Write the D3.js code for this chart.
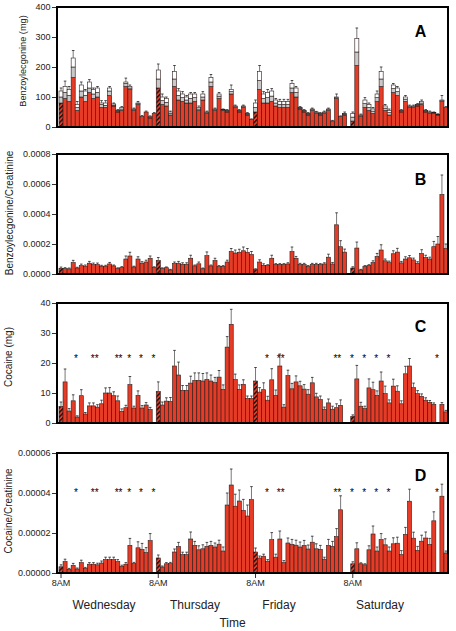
<!DOCTYPE html>
<html><head><meta charset="utf-8">
<script src="https://cdn.jsdelivr.net/npm/d3@7"></script>
<style>body{margin:0;background:#fff}svg{display:block;font-family:"Liberation Sans",Arial,sans-serif}</style>
</head><body><svg id="c" width="456" height="631"></svg>
<script>
// ---------- DATA ----------
const hourIndex = d3.range(96);               // hourly samples, 8AM Wednesday onward
const days = ["Wednesday","Thursday","Friday","Saturday"];
const dayTickSlots = [0,24,48,72];
const dayTickLabels = ["8AM","8AM","8AM","8AM"];
const hatchedSlots = [0,24,48,72];

// Panel A: Benzoylecgonine (mg) — stacked red / grey / white segments
const bzRed = [80,95,85,165,55,100,85,115,95,100,65,65,105,70,50,55,135,125,55,75,35,50,30,45,
 130,75,70,40,135,90,85,80,80,85,55,90,45,135,55,95,55,50,110,65,50,65,40,25,
 50,125,80,80,85,70,65,65,65,115,100,60,50,40,55,45,40,45,55,20,95,35,40,null,
 20,205,35,65,55,45,85,135,55,40,115,105,50,85,65,65,70,75,50,45,45,40,85,65];
const bzGrey = [20,20,20,35,10,20,20,15,15,15,10,7,15,3,3,5,10,5,3,3,0,0,2,0,
 30,13,12,5,25,15,13,10,15,13,5,10,3,15,3,8,2,3,8,3,3,3,3,0,
 15,30,15,18,18,10,10,10,10,15,15,3,3,3,3,3,3,3,3,0,3,0,3,null,
 13,45,3,13,10,8,13,25,8,8,13,13,3,8,3,3,3,5,3,3,2,1,3,0];
const bzWhite = [20,20,20,30,10,20,15,20,15,15,5,8,10,4,2,5,5,5,2,2,0,0,3,0,
 30,12,13,5,25,15,12,10,15,12,5,10,2,15,2,7,1,2,7,2,2,2,2,0,
 15,30,15,17,17,10,10,10,10,15,15,2,2,2,2,2,2,2,2,0,2,0,2,null,
 12,45,2,12,10,7,12,25,7,7,12,12,2,7,2,2,2,5,2,2,1,1,2,0];
const bzErr = [10,18,10,25,10,10,5,8,5,5,8,8,5,3,3,3,13,5,3,5,3,3,2,3,
 20,10,5,3,20,8,8,5,5,5,5,8,3,10,3,5,2,3,15,3,3,3,3,2,
 10,20,8,10,8,5,7,7,7,10,5,3,3,3,3,2,3,3,3,2,10,2,5,null,
 5,35,3,8,5,5,10,15,5,5,5,5,3,5,3,3,3,5,3,3,2,2,15,3];

// Panel B: Benzoylecgonine/Creatinine (values in units of 1e-4)
const bzCr = [0.38,0.36,0.34,0.76,0.4,0.56,0.52,0.72,0.63,0.63,0.52,0.52,0.67,0.54,0.36,0.43,1.0,1.2,0.47,1.0,0.72,0.8,1.05,0.43,
 0.9,0.36,0.42,0.27,0.7,0.72,0.65,0.65,1.05,0.54,0.68,0.35,1.22,0.54,0.9,0.5,0.5,0.8,1.5,1.4,1.45,1.55,1.45,1.3,
 0.3,0.8,0.58,0.56,1.05,0.63,0.63,0.63,0.67,1.5,1.05,0.63,0.63,0.5,0.63,0.63,0.63,0.67,1.12,0.67,3.28,1.82,1.46,null,
 0.4,1.73,0.27,0.5,0.56,0.76,1.17,1.6,0.88,0.76,1.35,1.46,0.74,1.0,1.08,0.94,0.72,1.37,1.1,1.0,1.82,2.0,5.3,1.7];
const bzCrErr = [0.08,0.06,0.06,0.15,0.05,0.1,0.08,0.12,0.1,0.1,0.06,0.06,0.1,0.06,0.05,0.06,0.2,0.25,0.05,0.15,0.1,0.12,0.15,0.05,
 0.2,0.05,0.05,0.04,0.1,0.12,0.1,0.1,0.2,0.06,0.12,0.05,0.25,0.06,0.15,0.06,0.06,0.12,0.2,0.2,0.2,0.25,0.25,0.2,
 0.05,0.15,0.1,0.06,0.2,0.06,0.06,0.06,0.08,0.3,0.12,0.08,0.08,0.06,0.08,0.08,0.06,0.08,0.2,0.1,0.8,0.4,0.2,null,
 0.08,0.4,0.04,0.06,0.06,0.12,0.2,0.35,0.12,0.1,0.2,0.25,0.1,0.15,0.15,0.12,0.1,0.25,0.15,0.12,0.35,0.5,1.3,0.3];

// Panel C: Cocaine (mg)
const coc = [5.5,13.7,4,7.4,2,9.1,3,5.7,5.7,5.3,6.4,10,10,9.1,7.4,3.9,5.1,12.8,5,9.2,5,6,4.5,null,
 10.5,6,7.3,7.2,19,16,10.9,10.9,13.3,14.2,14.2,14,14.5,14,13.5,15.3,11.2,25.3,32.9,14.5,11.2,12.9,8.2,8.2,
 14,10.3,11.1,7.6,14.4,9.2,19,5.3,15.8,11.4,13.7,12.4,11.3,9.6,13.4,8.7,7.8,4.6,6.7,4.6,5.1,5.9,null,null,
 2.2,14.7,5.6,4.8,11.7,11.1,9.2,14,9.8,6.7,12.3,10.6,6.4,16.4,19,11.8,9.8,8.9,7.6,6.9,6.2,null,6.2,3.7];
const cocErr = [1.5,4.3,0.8,2,0.4,2,0.5,1,1,0.8,1.2,1.7,1.8,1.3,1.6,0.8,0.8,2.7,0.6,1.5,0.8,0.8,0.7,null,
 3.2,1,1.1,1.3,5.2,4.3,1.6,1.6,2.3,2.5,2.5,2.5,2.2,2,1.7,2.2,1.5,3.5,5,1.8,1.5,1.5,0.8,0.8,
 4.5,1.5,2.3,1.3,3.7,1.8,4,0.8,1.8,1.8,2,1.5,1.5,1.5,1.8,1.2,1.2,0.7,1.3,1,1.3,1.8,null,null,
 0.5,4.5,1.3,0.8,3,2.5,1.5,3,2.5,1,2.3,1.8,1,2.5,2.5,1.5,1,0.8,0.8,0.6,0.5,null,0.6,0.5];

// Panel D: Cocaine/Creatinine (values in units of 1e-5)
const cocCr = [0.31,0.57,0.18,0.38,0.2,0.52,0.23,0.44,0.44,0.41,0.5,0.67,0.67,0.67,0.57,0.33,0.44,1.38,0.47,1.26,1.18,1.02,1.62,null,
 0.75,0.3,0.46,0.47,1.05,1.33,0.92,0.92,1.7,1.38,1.16,1.21,1.33,1.38,1.3,1.44,1.1,3.4,4.4,3.34,3.6,3.13,2.85,3.67,
 1.05,0.75,0.84,0.59,1.67,0.79,1.7,0.52,1.5,1.43,1.39,1.3,1.38,1.2,1.54,1.21,1.18,0.69,1.38,1.33,1.82,3.16,null,null,
 0.46,1.21,0.46,0.41,1.16,1.95,1.1,1.67,1.41,1.1,1.46,1.49,0.92,1.93,3.59,1.74,1.13,1.59,1.75,1.43,2.61,null,3.84,1.0];
const cocCrErr = [0.1,0.12,0.05,0.1,0.05,0.12,0.05,0.08,0.08,0.08,0.1,0.12,0.12,0.12,0.1,0.06,0.08,0.35,0.06,0.3,0.3,0.25,0.35,null,
 0.15,0.05,0.06,0.06,0.15,0.2,0.12,0.12,0.35,0.2,0.2,0.2,0.2,0.2,0.2,0.2,0.2,0.6,0.8,0.6,0.55,0.55,0.55,0.65,
 0.2,0.1,0.1,0.08,0.35,0.15,0.4,0.1,0.25,0.25,0.25,0.25,0.25,0.2,0.3,0.25,0.2,0.1,0.3,0.25,0.4,0.7,null,null,
 0.1,0.3,0.05,0.05,0.2,0.4,0.2,0.3,0.3,0.2,0.3,0.3,0.2,0.35,0.6,0.3,0.2,0.3,0.3,0.3,0.45,null,0.6,0.1];

// significance markers (slot position, label) shared by panels C and D
const starSlots  = [3.7,8.3,14.2,16.8,19.75,22.8,50.8,54.2,68.2,71.8,74.8,77.8,80.8,92.8];
const starLabels = ["*","**","**","*","*","*","*","**","**","*","*","*","*","*"];

const yTicksA = [0,100,200,300,400];
const yTicksB = [0,0.0002,0.0004,0.0006,0.0008];
const yTicksC = [0,10,20,30,40];
const yTicksD = [0,0.00002,0.00004,0.00006];

// ---------- DRAW ----------
const RED = "#e63b26";
const svg = d3.select("#c");
const defs = svg.append("defs");
const pat = defs.append("pattern").attr("id","hatch").attr("patternUnits","userSpaceOnUse")
  .attr("width",3.2).attr("height",3.2).attr("patternTransform","rotate(45)");
pat.append("rect").attr("width",3.2).attr("height",3.2).attr("fill",RED);
pat.append("rect").attr("width",1.4).attr("height",3.2).attr("fill","#111");

const L = 57, R = 448;
const x = d3.scaleBand().domain(hourIndex).range([59,448]).padding(0);
const xc = d3.scaleLinear().domain([-0.5,95.5]).range([59,448]);

function panel(cfg){
  const y = d3.scaleLinear().domain(cfg.domain).range([cfg.bottom,cfg.top]);
  const g = svg.append("g");
  const segs = cfg.segs;
  const fills = cfg.fills;
  hourIndex.forEach(i=>{
    if (segs[0][i]==null) return;
    let base = 0;
    segs.forEach((arr,k)=>{
      const v = arr[i]*cfg.unit;
      if (v<=0 && k>0) return;
      let fill = fills[k];
      if (k===0 && hatchedSlots.includes(i)) fill = "url(#hatch)";
      g.append("rect").attr("x",x(i)).attr("width",x.bandwidth())
        .attr("y",y(base+v)).attr("height",Math.max(0,y(base)-y(base+v)))
        .attr("fill",fill).attr("stroke","#2a1a18").attr("stroke-width",0.6);
      base += v;
    });
    const e = cfg.err[i];
    if (e!=null && e>0){
      const cx = x(i)+x.bandwidth()/2;
      const y0 = y(base), y1 = y(base+e*cfg.unit);
      g.append("line").attr("x1",cx).attr("x2",cx).attr("y1",y0).attr("y2",y1)
        .attr("stroke","#555").attr("stroke-width",0.8);
      g.append("line").attr("x1",cx-1.3).attr("x2",cx+1.3).attr("y1",y1).attr("y2",y1)
        .attr("stroke","#222").attr("stroke-width",0.8);
    }
  });
  svg.append("rect").attr("x",L).attr("y",cfg.top).attr("width",R-L).attr("height",cfg.bottom-cfg.top)
    .attr("fill","none").attr("stroke","#000").attr("stroke-width",2);
  const ax = svg.append("g").attr("transform",`translate(${L-1},0)`)
    .call(d3.axisLeft(y).tickValues(cfg.ticks).tickFormat(cfg.fmt).tickSize(4).tickPadding(1.5));
  ax.select(".domain").remove();
  ax.selectAll("line").attr("stroke","#333");
  ax.selectAll("text").attr("font-size",9).attr("fill","#222").attr("font-family","Liberation Sans, Arial, sans-serif");
  svg.append("text").attr("transform",`translate(${cfg.labelX},${cfg.labelY}) rotate(-90)`)
    .attr("text-anchor","middle").attr("dominant-baseline","central")
    .attr("font-size",cfg.labelSize||10).attr("fill","#222").text(cfg.label);
  svg.append("text").attr("x",420.5).attr("y",cfg.letterY).attr("text-anchor","middle")
    .attr("font-size",16).attr("font-weight","bold").attr("fill","#000").text(cfg.letter);
  if (cfg.starY!=null){
    starSlots.forEach((s,j)=>{
      svg.append("text").attr("x",xc(s)).attr("y",y(cfg.starY)+5).attr("text-anchor","middle")
        .attr("font-size",10).attr("fill","#000").text(starLabels[j]);
    });
  }
  return y;
}

panel({top:7,bottom:127,domain:[0,400],ticks:yTicksA,fmt:d3.format("d"),unit:1,
  segs:[bzRed,bzGrey,bzWhite],fills:[RED,"#c9c9c9","#fff"],err:bzErr,
  label:"Benzoylecgonine (mg)",labelX:23,labelY:61,labelSize:9.2,letter:"A",letterY:37});
panel({top:154,bottom:274,domain:[0,0.0008],ticks:yTicksB,fmt:d3.format(".4f"),unit:1e-4,
  segs:[bzCr],fills:[RED],err:bzCrErr,
  label:"Benzoylecgonine/Creatinine",labelX:9.5,labelY:213,letter:"B",letterY:185});
panel({top:303,bottom:423,domain:[0,40],ticks:yTicksC,fmt:d3.format("d"),unit:1,
  segs:[coc],fills:[RED],err:cocErr,starY:22,
  label:"Cocaine (mg)",labelX:8.5,labelY:357,letter:"C",letterY:331.7});
panel({top:453,bottom:573,domain:[0,0.00006],ticks:yTicksD,fmt:d3.format(".5f"),unit:1e-5,
  segs:[cocCr],fills:[RED],err:cocCrErr,starY:0.000041,
  label:"Cocaine/Creatinine",labelX:8.5,labelY:511,letter:"D",letterY:480.7});

const xa = svg.append("g").attr("transform","translate(0,574)");
dayTickSlots.forEach((s,j)=>{
  xa.append("line").attr("x1",xc(s)).attr("x2",xc(s)).attr("y1",0).attr("y2",4).attr("stroke","#333");
  xa.append("text").attr("x",xc(s)).attr("y",12).attr("text-anchor","middle").attr("font-size",9)
    .attr("fill","#222").text(dayTickLabels[j]);
});
const dayX = [104,195,279,380];
days.forEach((d,j)=>{
  svg.append("text").attr("x",dayX[j]).attr("y",609).attr("text-anchor","middle")
    .attr("font-size",12).attr("fill","#222").text(d);
});
svg.append("text").attr("x",232.5).attr("y",627).attr("text-anchor","middle")
  .attr("font-size",12).attr("fill","#222").text("Time");
</script></body></html>
